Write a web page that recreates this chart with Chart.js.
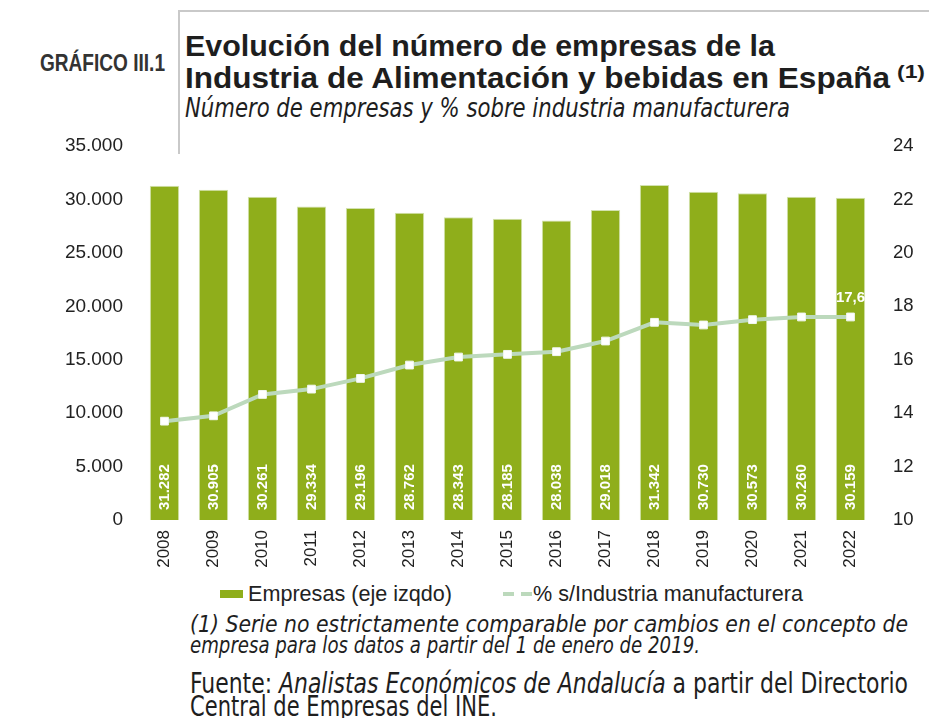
<!DOCTYPE html>
<html>
<head>
<meta charset="utf-8">
<script src="https://cdn.jsdelivr.net/npm/chart.js@4.4.1/dist/chart.umd.min.js"></script>
<style>
  body { margin: 0; width: 929px; height: 718px; overflow: hidden; background: #fff; position: relative;
         font-family: "Liberation Sans", Arial, sans-serif; color: #1e1e1e; }
  .t { position: absolute; white-space: nowrap; line-height: 1; transform-origin: 0 0; }
  .b { font-weight: bold; }
  .n { font-family: "Liberation Sans Narrow", "DejaVu Sans Condensed", "Liberation Sans", sans-serif; }
  .i { font-style: italic; }
  .frame { position: absolute; left: 178px; top: 10px; width: 760px; height: 142px;
           border-left: 2px solid #c9c9c9; border-top: 2px solid #c9c9c9; }
  .lg { position: absolute; }
  #wrap { position: absolute; left: 0; top: 0; }
</style>
</head>
<body>
<div class="frame"></div>
<div class="t b" style="left:40px;top:52px;font-size:23px;color:#333" data-w="125">GRÁFICO III.1</div>
<div class="t b" style="left:185px;top:31px;font-size:30px" data-w="590">Evolución del número de empresas de la</div>
<div class="t b" style="left:185px;top:63px;font-size:30px" data-w="705">Industria de Alimentación y bebidas en España</div>
<div class="t b" style="left:897px;top:63px;font-size:18px" data-w="28">(1)</div>
<div class="t n i" style="left:185px;top:95px;font-size:26px" data-w="605">Número de empresas y % sobre industria manufacturera</div>

<div id="wrap"><canvas id="chart" width="929" height="580"></canvas></div>

<div class="lg" style="left:220px;top:590px;width:23px;height:8px;background:#8fae1b"></div>
<div class="t" style="left:248px;top:584px;font-size:21.5px;color:#222" data-w="204">Empresas (eje izqdo)</div>
<div class="lg" style="left:503px;top:592px;width:29px;height:4px;background:repeating-linear-gradient(90deg,#bcd9bc 0 11px,transparent 11px 18px)"></div>
<div class="t" style="left:533px;top:584px;font-size:21.5px;color:#222" data-w="270">% s/Industria manufacturera</div>

<div class="t n i" style="left:190px;top:613px;font-size:22.5px" data-w="718">(1) Serie no estrictamente comparable por cambios en el concepto de</div>
<div class="t n i" style="left:190px;top:634px;font-size:22.5px" data-w="510">empresa para los datos a partir del 1 de enero de 2019.</div>
<div class="t n" style="left:190px;top:669px;font-size:29px" data-w="718">Fuente: <span class="i">Analistas Económicos de Andalucía</span> a partir del Directorio</div>
<div class="t n" style="left:190px;top:692px;font-size:29px" data-w="307">Central de Empresas del INE.</div>

<script>
const years = ['2008', '2009', '2010', '2011', '2012', '2013', '2014', '2015',
               '2016', '2017', '2018', '2019', '2020', '2021', '2022'];
const empresas = [31282, 30905, 30261, 29334, 29196, 28762, 28343, 28185,
                  28038, 29018, 31342, 30730, 30573, 30260, 30159];
const pctManuf = [13.7, 13.9, 14.7, 14.9, 15.3, 15.8, 16.1, 16.2,
                  16.3, 16.7, 17.4, 17.3, 17.5, 17.6, 17.6];

const fmtMiles = v => String(v).replace(/\B(?=(\d{3})+(?!\d))/g, '.');

// stretch each text line to the width it takes in the original
document.querySelectorAll('[data-w]').forEach(el => {
  const w = el.getBoundingClientRect().width;
  el.style.transform = 'scaleX(' + (+el.dataset.w / w) + ')';
});

const valueLabels = {
  id: 'valueLabels',
  afterDatasetsDraw(chart) {
    const ctx = chart.ctx;
    ctx.save();
    ctx.fillStyle = '#fff';
    ctx.font = 'bold 15px "Liberation Sans", Arial, sans-serif';
    ctx.textAlign = 'left';
    ctx.textBaseline = 'middle';
    chart.getDatasetMeta(0).data.forEach((bar, i) => {
      ctx.save();
      ctx.translate(bar.x, bar.base - 10);
      ctx.rotate(-Math.PI / 2);
      ctx.fillText(fmtMiles(empresas[i]), 0, 0);
      ctx.restore();
    });
    const pts = chart.getDatasetMeta(1).data;
    const last = pts.length - 1;
    ctx.textAlign = 'center';
    ctx.textBaseline = 'bottom';
    ctx.fillText(String(pctManuf[last]).replace('.', ','), pts[last].x, pts[last].y - 12);
    ctx.restore();
  }
};

const family = '"Liberation Sans", Arial, sans-serif';

new Chart(document.getElementById('chart').getContext('2d'), {
  type: 'bar',
  data: {
    labels: years,
    datasets: [
      {
        type: 'bar',
        label: 'Empresas (eje izqdo)',
        data: empresas,
        backgroundColor: '#8fae1b',
        borderColor: '#d3e2b0',
        borderWidth: 1,
        barPercentage: 0.6,
        categoryPercentage: 1,
        yAxisID: 'y',
        order: 2
      },
      {
        type: 'line',
        label: '% s/Industria manufacturera',
        data: pctManuf,
        borderColor: '#bcd9bc',
        borderWidth: 4,
        pointStyle: 'rect',
        pointRadius: 5.5,
        pointBackgroundColor: '#fff',
        pointBorderColor: '#f2f7f2',
        pointBorderWidth: 1,
        tension: 0,
        yAxisID: 'y1',
        order: 1
      }
    ]
  },
  options: {
    responsive: false,
    animation: false,
    layout: { padding: { top: 146, left: 0, right: 0, bottom: 0 } },
    plugins: { legend: { display: false }, tooltip: { enabled: false } },
    scales: {
      x: {
        grid: { display: false, drawTicks: false },
        border: { display: false },
        ticks: { minRotation: 90, maxRotation: 90, padding: 10, color: '#222', font: { family, size: 17 } },
        afterFit(s) { s.height = 60; }
      },
      y: {
        position: 'left',
        min: 0, max: 35000,
        grid: { display: false, drawTicks: false },
        border: { display: false },
        ticks: { stepSize: 5000, padding: 17, color: '#222', font: { family, size: 19 }, callback: v => fmtMiles(v) },
        afterFit(s) { s.width = 140; }
      },
      y1: {
        position: 'right',
        min: 10, max: 24,
        grid: { display: false, drawTicks: false },
        border: { display: false },
        ticks: { stepSize: 2, padding: 18, color: '#222', font: { family, size: 18.5 } },
        afterFit(s) { s.width = 54; }
      }
    }
  },
  plugins: [valueLabels]
});
</script>
</body>
</html>
